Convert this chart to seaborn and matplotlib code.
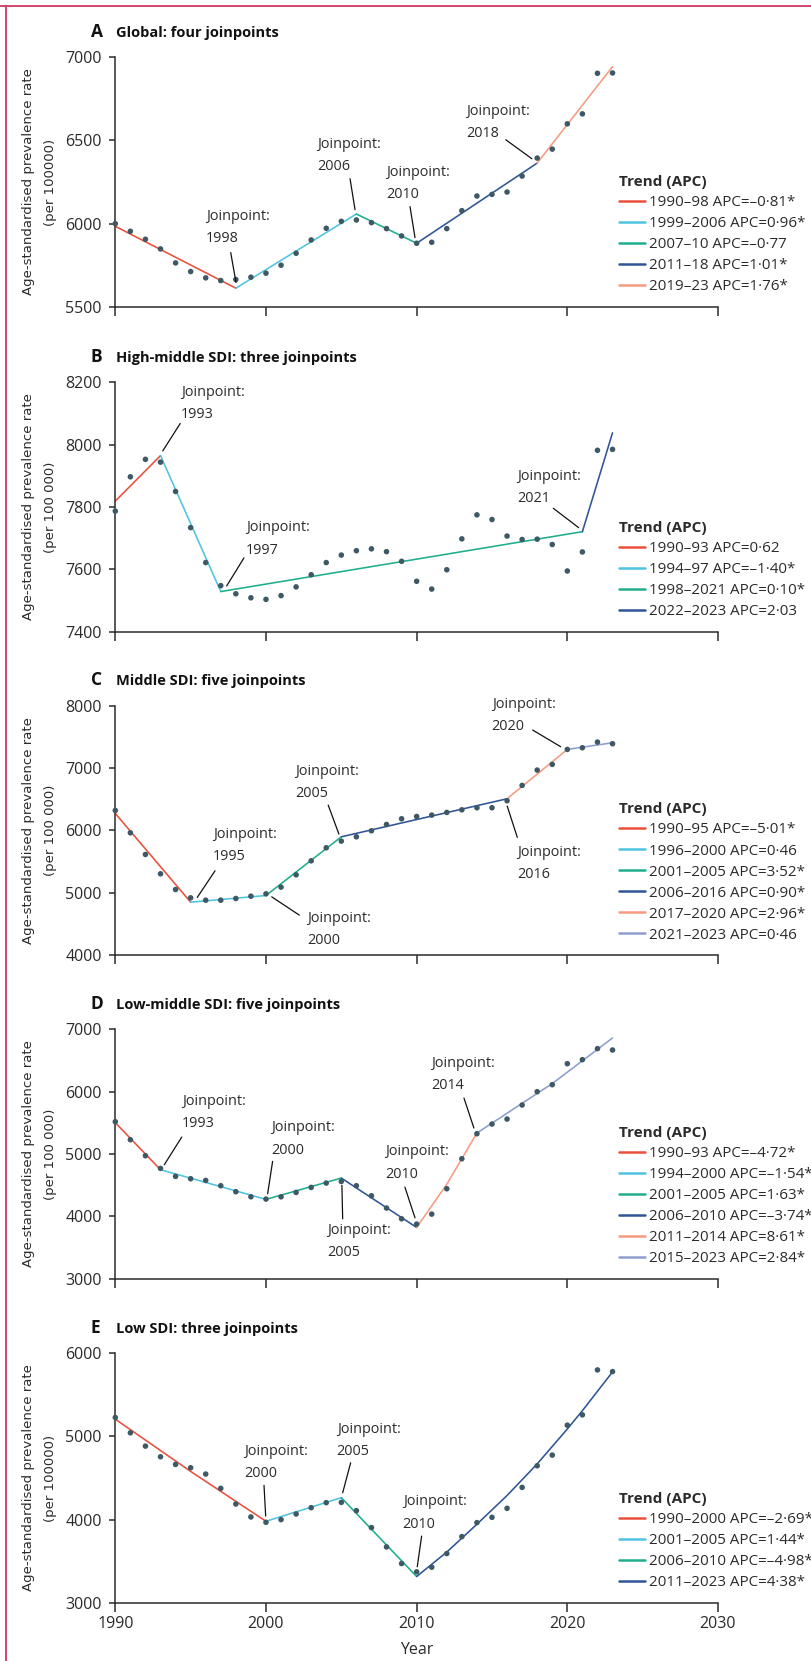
import matplotlib
matplotlib.use("Agg")
import matplotlib.pyplot as plt
from matplotlib.lines import Line2D
import numpy as np
import pandas as pd
import seaborn as sns

# ---------------------------------------------------------------- data
years = list(range(1990, 2024))

global_rate = [6000, 5954, 5906, 5848, 5764, 5712, 5674, 5658, 5664, 5678, 5702, 5750,
               5822, 5902, 5972, 6014, 6022, 6006, 5970, 5926, 5882, 5888, 5970, 6078,
               6166, 6176, 6190, 6286, 6394, 6448, 6600, 6660, 6904, 6906]
high_middle_rate = [7787, 7897, 7953, 7944, 7850, 7734, 7622, 7548, 7522, 7509, 7504, 7516,
                    7544, 7583, 7622, 7646, 7660, 7666, 7657, 7626, 7562, 7537, 7599, 7698,
                    7775, 7760, 7707, 7696, 7697, 7680, 7595, 7656, 7982, 7985]
middle_rate = [6321, 5962, 5615, 5305, 5053, 4920, 4882, 4882, 4909, 4946, 4984, 5091,
               5289, 5513, 5722, 5829, 5898, 5995, 6096, 6187, 6224, 6246, 6289, 6331,
               6364, 6364, 6476, 6722, 6968, 7059, 7299, 7326, 7417, 7390]
low_middle_rate = [5519, 5230, 4973, 4770, 4642, 4604, 4577, 4492, 4396, 4315, 4278, 4315,
                   4385, 4465, 4535, 4561, 4492, 4331, 4134, 3962, 3877, 4037, 4444, 4925,
                   5326, 5481, 5561, 5786, 6000, 6112, 6449, 6513, 6690, 6668]
low_rate = [5228, 5044, 4884, 4756, 4664, 4624, 4548, 4376, 4188, 4032, 3968, 4000,
            4068, 4144, 4204, 4208, 4108, 3904, 3672, 3472, 3372, 3428, 3592, 3796,
            3964, 4028, 4136, 4388, 4648, 4776, 5136, 5260, 5800, 5780]

# fitted joinpoint trend segments (years / fitted values)
global_seg_labels = ["1990–98 APC=–0·81*", "1999–2006 APC=0·96*", "2007–10 APC=–0·77",
                     "2011–18 APC=1·01*", "2019–23 APC=1·76*"]
global_seg_years = [[1990, 1998], [1998, 2006], [2006, 2010], [2010, 2018], [2018, 2023]]
global_seg_values = [[5984, 5612], [5612, 6058], [6058, 5882], [5882, 6364], [6364, 6944]]
global_joinpoints = [1998, 2006, 2010, 2018]

high_middle_seg_labels = ["1990–93 APC=0·62", "1994–97 APC=–1·40*", "1998–2021 APC=0·10*",
                          "2022–2023 APC=2·03"]
high_middle_seg_years = [[1990, 1993], [1993, 1997], [1997, 2021], [2021, 2023]]
high_middle_seg_values = [[7819, 7965], [7965, 7529], [7529, 7721], [7721, 8038]]
high_middle_joinpoints = [1993, 1997, 2021]

middle_seg_labels = ["1990–95 APC=–5·01*", "1996–2000 APC=0·46", "2001–2005 APC=3·52*",
                     "2006–2016 APC=0·90*", "2017–2020 APC=2·96*", "2021–2023 APC=0·46"]
middle_seg_years = [[1990, 1995], [1995, 2000], [2000, 2005], [2005, 2016], [2016, 2020],
                    [2020, 2023]]
middle_seg_values = [[6273, 4850], [4850, 4957], [4957, 5898], [5898, 6508], [6508, 7299],
                     [7299, 7406]]
middle_joinpoints = [1995, 2000, 2005, 2016, 2020]

low_middle_seg_labels = ["1990–93 APC=–4·72*", "1994–2000 APC=–1·54*", "2001–2005 APC=1·63*",
                         "2006–2010 APC=–3·74*", "2011–2014 APC=8·61*", "2015–2023 APC=2·84*"]
low_middle_seg_years = [[1990, 1993], [1993, 2000], [2000, 2005], [2005, 2010],
                        [2010, 2012, 2014], [2014, 2019, 2023]]
low_middle_seg_values = [[5503, 4749], [4749, 4273], [4273, 4615], [4615, 3823],
                         [3823, 4515, 5337], [5337, 6130, 6861]]
low_middle_joinpoints = [1993, 2000, 2005, 2010, 2014]

low_seg_labels = ["1990–2000 APC=–2·69*", "2001–2005 APC=1·44*", "2006–2010 APC=–4·98*",
                  "2011–2023 APC=4·38*"]
low_seg_years = [[1990, 1995, 2000], [2000, 2005], [2005, 2010],
                 [2010, 2012, 2014, 2016, 2018, 2020, 2021, 2023]]
low_seg_values = [[5208, 4580, 3980], [3980, 4264], [4264, 3316],
                  [3316, 3610, 3945, 4290, 4670, 5090, 5310, 5776]]
low_joinpoints = [2000, 2005, 2010]

panel_letters = ["A", "B", "C", "D", "E"]
panel_titles = ["Global: four joinpoints", "High-middle SDI: three joinpoints",
                "Middle SDI: five joinpoints", "Low-middle SDI: five joinpoints",
                "Low SDI: three joinpoints"]
ylabel_lines = ["Age-standardised prevalence rate\n(per 100000)",
                "Age-standardised prevalence rate\n(per 100 000)",
                "Age-standardised prevalence rate\n(per 100 000)",
                "Age-standardised prevalence rate\n(per 100 000)",
                "Age-standardised prevalence rate\n(per 100000)"]
y_ticks = [[5500, 6000, 6500, 7000], [7400, 7600, 7800, 8000, 8200],
           [4000, 5000, 6000, 7000, 8000], [3000, 4000, 5000, 6000, 7000],
           [3000, 4000, 5000, 6000]]
x_ticks = [1990, 2000, 2010, 2020, 2030]

# ---------------------------------------------------------------- style / layout
SEG_COLORS = ["#e9503b", "#4fc3e0", "#1fae8c", "#2f5596", "#f79b80", "#8d9ece"]
DOT = "#3e5965"
INK = "#2b2b2b"
FRAME = "#cf3762"

W, H = 812, 1661
AX_LEFT, AX_RIGHT, AX_H = 115.3, 718.0, 249.5
AX_TOPS = [57.3, 382.3, 705.7, 1029.3, 1353.3]

# annotation layout: (joinpoint, text (x, y top), line start, line end) in data units
ANNOT = [
    [(1998, (1996.0, 6090), (1997.66, 5826), (1998.01, 5646)),
     (2006, (2003.4, 6520), (2005.58, 6270), (2005.91, 6084)),
     (2010, (2008.0, 6352), (2009.56, 6102), (2009.89, 5916)),
     (2018, (2013.3, 6718), (2015.92, 6504), (2017.65, 6390))],
    [(1993, (1994.35, 8192), (1994.31, 8068), (1993.15, 7980)),
     (1997, (1998.65, 7757), (1998.54, 7637), (1997.39, 7547)),
     (2021, (2016.68, 7923), (2019.07, 7796), (2020.75, 7734))],
    [(1995, (1996.5, 6050), (1996.62, 5353), (1995.44, 4927)),
     (2000, (2002.74, 4712), (2002.21, 4643), (2000.38, 4936)),
     (2005, (2001.92, 7065), (2004.13, 6407), (2004.84, 5942)),
     (2016, (2016.7, 5770), (2016.68, 5889), (2016.01, 6391)),
     (2020, (2014.98, 8140), (2017.70, 7610), (2019.56, 7342))],
    [(1993, (1994.43, 5967), (1994.41, 5272), (1993.25, 4828)),
     (2000, (2000.33, 5540), (2000.44, 4883), (2000.11, 4363)),
     (2005, (2004.09, 3898), (2005.09, 3962), (2005.04, 4498)),
     (2010, (2007.9, 5155), (2009.22, 4470), (2009.89, 3978)),
     (2014, (2010.99, 6572), (2013.14, 5898), (2013.80, 5417))],
    [(2000, (1998.54, 4909), (1999.87, 4412), (1999.98, 4043)),
     (2005, (2004.69, 5170), (2005.62, 4684), (2005.09, 4323)),
     (2010, (2009.07, 4304), (2010.33, 3802), (2010.04, 3433))],
]

sns.set_theme(style="ticks")
plt.rcParams["font.family"] = ["Open Sans", "DejaVu Sans"]
plt.rcParams["axes.linewidth"] = 1.1

fig = plt.figure(figsize=(W / 100, H / 100), dpi=100)

rates = [global_rate, high_middle_rate, middle_rate, low_middle_rate, low_rate]
seg_labels = [global_seg_labels, high_middle_seg_labels, middle_seg_labels,
              low_middle_seg_labels, low_seg_labels]
seg_years = [global_seg_years, high_middle_seg_years, middle_seg_years,
             low_middle_seg_years, low_seg_years]
seg_values = [global_seg_values, high_middle_seg_values, middle_seg_values,
              low_middle_seg_values, low_seg_values]

for i in range(5):
    top = AX_TOPS[i]
    ax = fig.add_axes([AX_LEFT / W, 1 - (top + AX_H) / H, (AX_RIGHT - AX_LEFT) / W, AX_H / H])

    labels = seg_labels[i]
    colors = SEG_COLORS[:len(labels)]
    rows = []
    for lab, ys, vs in zip(labels, seg_years[i], seg_values[i]):
        for yy, vv in zip(ys, vs):
            rows.append({"year": yy, "value": vv, "segment": lab})
    df_seg = pd.DataFrame(rows)
    sns.lineplot(data=df_seg, x="year", y="value", hue="segment", hue_order=labels,
                 palette=dict(zip(labels, colors)), estimator=None, sort=False,
                 linewidth=1.15, ax=ax, legend=False, zorder=2)

    df_pts = pd.DataFrame({"year": years, "rate": rates[i]})
    sns.scatterplot(data=df_pts, x="year", y="rate", color=DOT, s=16, edgecolor="none",
                    linewidth=0, ax=ax, zorder=4, clip_on=False, legend=False)

    yt = y_ticks[i]
    ax.set_xlim(1990, 2030)
    ax.set_ylim(yt[0], yt[-1])
    ax.set_yticks(yt)
    ax.set_xticks(x_ticks)
    sns.despine(ax=ax)
    for sp in ("left", "bottom"):
        ax.spines[sp].set_color(INK)
        ax.spines[sp].set_linewidth(1.1)
    ax.tick_params(axis="y", length=4.3, width=1.1, color=INK, labelsize=11.5,
                   labelcolor=INK, pad=5.5)
    ax.tick_params(axis="x", length=6.5, width=1.1, color=INK, labelsize=11.5,
                   labelcolor=INK, pad=3)
    ax.set_xticklabels([str(t) for t in x_ticks])
    if i < 4:
        ax.tick_params(axis="x", labelbottom=False)
        ax.set_xlabel("")
    else:
        ax.set_xlabel("Year", fontsize=11.5, color=INK, labelpad=7)

    ax.set_ylabel(ylabel_lines[i], family="DejaVu Sans", fontsize=9.5, color=INK,
                  linespacing=1.95)
    ax.yaxis.set_label_coords(-0.096, 0.5)

    # joinpoint annotations
    for jp, (tx, ty), (x0, y0), (x1, y1) in ANNOT[i]:
        ax.annotate("", xy=(x1, y1), xytext=(x0, y0),
                    arrowprops=dict(arrowstyle="-", color="#111111", lw=0.9,
                                    shrinkA=0, shrinkB=0), zorder=5)
        ax.text(tx, ty, f"Joinpoint:\n{jp}", ha="left", va="top", fontsize=10.4,
                linespacing=1.65, color=INK, zorder=5)

    # legend
    handles = [Line2D([], [], color=c, lw=1.8) for c in colors]
    leg = ax.legend(handles, labels, title="Trend (APC)", loc="lower left",
                    bbox_to_anchor=(0.836, 0.05), frameon=False, fontsize=10.9,
                    title_fontproperties={"weight": "bold", "size": 11},
                    handlelength=1.7, handletextpad=0.3, labelspacing=0.4,
                    borderpad=0, borderaxespad=0, alignment="left")
    for t in leg.get_texts():
        t.set_color(INK)
    leg.get_title().set_color(INK)

    # panel title
    base = top - 20.5
    fig.text(91 / W, 1 - base / H, panel_letters[i], fontsize=12.5, weight="bold",
             va="baseline", ha="left", color="#111111")
    fig.text(116 / W, 1 - base / H, panel_titles[i], fontsize=10.5, weight="bold",
             va="baseline", ha="left", color="#111111")

# thin coloured frame (top and left edges)
fig.add_artist(Line2D([0, 1], [1 - 5.5 / H, 1 - 5.5 / H], transform=fig.transFigure,
                      color=FRAME, lw=1.3))
fig.add_artist(Line2D([6 / W, 6 / W], [0, 1 - 5.5 / H], transform=fig.transFigure,
                      color=FRAME, lw=1.3))

fig.savefig("out.png", dpi=100)
